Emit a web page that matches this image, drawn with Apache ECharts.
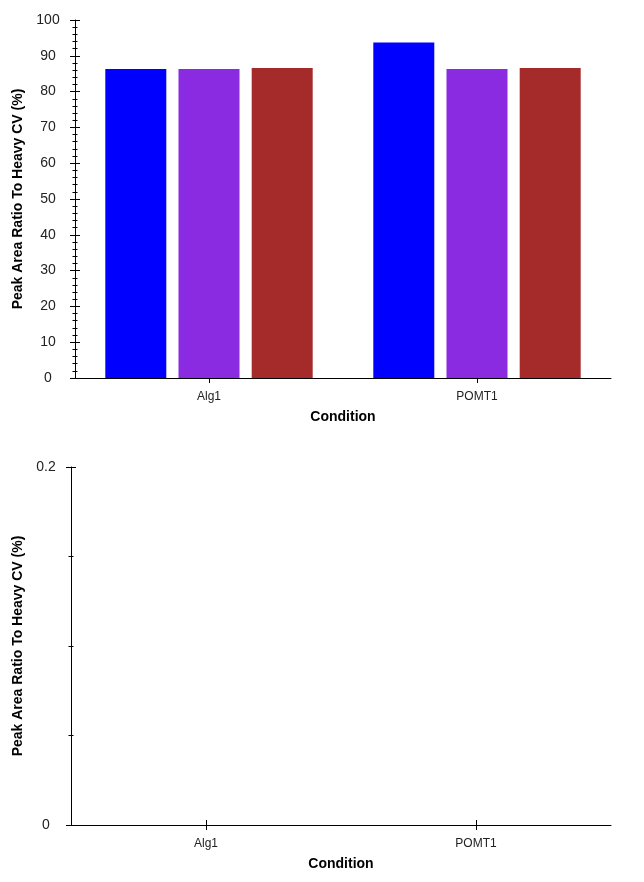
<!DOCTYPE html>
<html>
<head>
<meta charset="utf-8">
<script src="https://cdn.jsdelivr.net/npm/echarts@6/dist/echarts.min.js"></script>
<style>
html,body{margin:0;padding:0;background:#fff;}
#chart{width:644px;height:882px;}
</style>
</head>
<body>
<div id="chart"></div>
<script>
// ---- data ----
var categories = ['Alg1', 'POMT1'];
var seriesNames = ['Replicate 1', 'Replicate 2', 'Replicate 3'];
var seriesColors = ['#0000FF', '#8A2BE2', '#A52A2A'];
var ratioSeries1 = [86.3, 93.7];
var ratioSeries2 = [86.3, 86.3];
var ratioSeries3 = [86.6, 86.6];
var cvSeries = [];
var yTitle = 'Peak Area Ratio To Heavy CV (%)';
var xTitle = 'Condition';

var FONT = 'Liberation Sans, Arial, sans-serif';
var black = '#000';

function catAxis(gridIndex, primary) {
  return {
    type: 'category', gridIndex: gridIndex, data: categories, position: 'bottom',
    boundaryGap: true,
    name: primary ? xTitle : '', nameLocation: 'middle', nameGap: 32,
    nameTextStyle: { fontFamily: FONT, fontSize: 14, fontWeight: 'bold', color: black },
    axisLine: { show: primary, lineStyle: { color: black, width: 1 } },
    axisTick: { show: true, alignWithLabel: true, inside: !primary, length: 5, lineStyle: { color: black } },
    axisLabel: { show: primary, fontFamily: FONT, fontSize: 12, color: '#222', margin: 13 },
    splitLine: { show: false }
  };
}
function valAxis(gridIndex, primary, max, interval, split, margin, gap) {
  return {
    type: 'value', gridIndex: gridIndex, position: 'left', min: 0, max: max, interval: interval,
    name: primary ? yTitle : '', nameLocation: 'middle', nameGap: gap,
    nameTextStyle: { fontFamily: FONT, fontSize: 14, fontWeight: 'bold', color: black },
    axisLine: { show: primary, lineStyle: { color: black, width: 1 } },
    axisTick: { show: true, inside: !primary, length: 5, lineStyle: { color: black } },
    minorTick: { show: true, splitNumber: split, length: 2.5, lineStyle: { color: black } },
    axisLabel: { show: primary, fontFamily: FONT, fontSize: 14, color: '#222', margin: margin, align: 'center' },
    splitLine: { show: false },
    minorSplitLine: { show: false }
  };
}

var bars = [ratioSeries1, ratioSeries2, ratioSeries3].map(function (vals, i) {
  return {
    type: 'bar', name: seriesNames[i], xAxisIndex: 0, yAxisIndex: 0,
    data: vals, barWidth: 61, barGap: '20%',
    itemStyle: { color: seriesColors[i] }, silent: true
  };
});
bars.push({ type: 'bar', name: 'CV', xAxisIndex: 2, yAxisIndex: 2, data: cvSeries, silent: true });

var option = {
  animation: false,
  backgroundColor: '#fff',
  grid: [
    { left: 75, right: 33, top: 20, bottom: 504 },
    { left: 71, right: 33, top: 467, bottom: 57 }
  ],
  xAxis: [catAxis(0, true), catAxis(0, false), catAxis(1, true), catAxis(1, false)],
  yAxis: [
    valAxis(0, true, 100, 10, 5, 27, 50), valAxis(0, false, 100, 10, 5, 27, 50),
    valAxis(1, true, 0.2, 0.2, 4, 25, 46), valAxis(1, false, 0.2, 0.2, 4, 25, 46)
  ],
  series: bars
};
var chart = echarts.init(document.getElementById('chart'), null, { renderer: 'canvas' });
chart.setOption(option);
</script>
</body>
</html>
